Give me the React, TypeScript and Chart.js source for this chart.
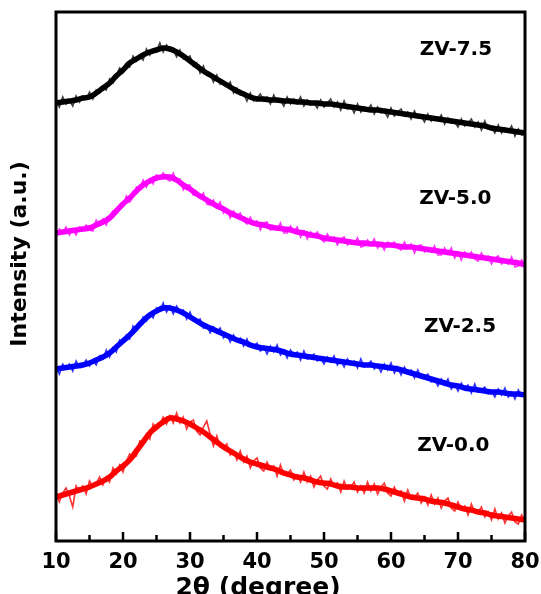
import React, { useEffect, useRef } from 'react';
import { Chart, registerables } from 'chart.js';

Chart.register(...registerables);

// 2θ sampling grid of the raw scans (degrees)
const twoTheta = [
  10, 10.5, 11, 11.5, 12, 12.5, 13, 13.5, 14, 14.5,
  15, 15.5, 16, 16.5, 17, 17.5, 18, 18.5, 19, 19.5,
  20, 20.5, 21, 21.5, 22, 22.5, 23, 23.5, 24, 24.5,
  25, 25.5, 26, 26.5, 27, 27.5, 28, 28.5, 29, 29.5,
  30, 30.5, 31, 31.5, 32, 32.5, 33, 33.5, 34, 34.5,
  35, 35.5, 36, 36.5, 37, 37.5, 38, 38.5, 39, 39.5,
  40, 40.5, 41, 41.5, 42, 42.5, 43, 43.5, 44, 44.5,
  45, 45.5, 46, 46.5, 47, 47.5, 48, 48.5, 49, 49.5,
  50, 50.5, 51, 51.5, 52, 52.5, 53, 53.5, 54, 54.5,
  55, 55.5, 56, 56.5, 57, 57.5, 58, 58.5, 59, 59.5,
  60, 60.5, 61, 61.5, 62, 62.5, 63, 63.5, 64, 64.5,
  65, 65.5, 66, 66.5, 67, 67.5, 68, 68.5, 69, 69.5,
  70, 70.5, 71, 71.5, 72, 72.5, 73, 73.5, 74, 74.5,
  75, 75.5, 76, 76.5, 77, 77.5, 78, 78.5, 79, 79.5,
  80,
];

// Raw intensity (a.u., stacked offsets as in the figure)
const zv75 = [
  441, 434, 444, 437, 441, 435, 445, 439, 445, 442,
  449, 442, 451, 448, 453, 451, 462, 458, 466, 473,
  469, 477, 474, 485, 480, 485, 481, 492, 486, 492,
  490, 498, 489, 496, 490, 491, 484, 491, 482, 483,
  485, 475, 478, 468, 475, 466, 467, 459, 466, 457,
  460, 455, 459, 448, 453, 446, 447, 440, 448, 440,
  443, 447, 440, 444, 437, 446, 439, 441, 435, 444,
  437, 442, 438, 444, 435, 441, 436, 438, 433, 441,
  434, 438, 442, 434, 439, 431, 440, 432, 435, 428,
  437, 429, 434, 431, 436, 427, 434, 428, 430, 424,
  433, 425, 429, 432, 425, 429, 422, 430, 423, 425,
  419, 427, 420, 424, 421, 426, 417, 423, 418, 419,
  414, 422, 415, 418, 422, 414, 419, 411, 420, 412,
  414, 408, 416, 408, 413, 409, 415, 405, 412, 406,
  408,
];

const zv50 = [
  305, 312, 308, 314, 306, 312, 306, 314, 312, 316,
  311, 310, 321, 316, 322, 316, 325, 330, 327, 334,
  335, 345, 339, 344, 354, 352, 361, 354, 362, 357,
  366, 364, 368, 362, 360, 368, 360, 362, 351, 356,
  356, 346, 348, 343, 348, 337, 336, 341, 334, 339,
  328, 332, 323, 330, 325, 328, 320, 317, 324, 317,
  320, 311, 318, 319, 311, 315, 311, 318, 308, 308,
  315, 309, 314, 304, 310, 302, 309, 305, 309, 302,
  299, 307, 301, 304, 296, 302, 304, 296, 300, 297,
  303, 294, 295, 301, 296, 302, 293, 298, 291, 299,
  296, 299, 293, 291, 299, 293, 297, 288, 295, 296,
  289, 292, 289, 295, 286, 286, 293, 287, 293, 283,
  289, 281, 289, 285, 289, 282, 280, 288, 282, 285,
  277, 283, 285, 277, 281, 277, 284, 274, 275, 281,
  275,
];

const zv25 = [
  174, 167, 177, 172, 177, 170, 180, 174, 176, 181,
  175, 180, 176, 185, 182, 191, 184, 193, 189, 201,
  199, 206, 202, 215, 211, 216, 224, 220, 227, 223,
  233, 230, 238, 229, 235, 227, 235, 229, 231, 222,
  229, 220, 220, 222, 213, 216, 208, 214, 208, 213,
  203, 207, 199, 206, 200, 203, 195, 202, 194, 195,
  198, 190, 194, 187, 195, 189, 196, 186, 191, 183,
  191, 186, 189, 181, 190, 182, 184, 187, 180, 183,
  177, 184, 179, 185, 176, 181, 174, 182, 177, 180,
  173, 182, 174, 176, 180, 172, 176, 169, 177, 171,
  178, 168, 174, 166, 174, 168, 171, 163, 171, 163,
  164, 167, 159, 162, 155, 162, 156, 162, 152, 157,
  150, 158, 152, 156, 148, 157, 149, 151, 154, 147,
  150, 144, 152, 146, 153, 144, 149, 142, 151, 145,
  149,
];

const zv00 = [
  48, 39, 48, 53, 45, 34, 55, 50, 55, 47,
  60, 54, 57, 64, 56, 64, 59, 73, 67, 76,
  69, 80, 87, 83, 85, 100, 98, 107, 102, 117,
  112, 117, 124, 117, 125, 118, 128, 118, 124, 112,
  119, 121, 110, 106, 114, 120, 107, 95, 105, 94,
  94, 97, 86, 90, 81, 90, 79, 85, 73, 80,
  83, 73, 70, 79, 72, 75, 65, 76, 66, 67,
  71, 61, 66, 59, 69, 59, 65, 54, 61, 65,
  55, 52, 62, 55, 58, 49, 60, 52, 54, 59,
  49, 55, 48, 59, 50, 57, 47, 54, 58, 48,
  45, 54, 47, 50, 40, 51, 42, 44, 48, 38,
  44, 36, 46, 37, 43, 33, 40, 43, 33, 30,
  39, 32, 35, 26, 37, 28, 29, 34, 24, 29,
  21, 32, 22, 28, 18, 25, 29, 19, 17, 26,
  20,
];

// Centre line of each noisy band, read at 1° steps
const twoThetaCoarse = [
  10, 11, 12, 13, 14, 15, 16, 17, 18, 19,
  20, 21, 22, 23, 24, 25, 26, 27, 28, 29,
  30, 31, 32, 33, 34, 35, 36, 37, 38, 39,
  40, 41, 42, 43, 44, 45, 46, 47, 48, 49,
  50, 51, 52, 53, 54, 55, 56, 57, 58, 59,
  60, 61, 62, 63, 64, 65, 66, 67, 68, 69,
  70, 71, 72, 73, 74, 75, 76, 77, 78, 79,
  80,
];

const zv75Band = [
  438, 439, 440, 441, 443, 444, 448, 453, 458, 465,
  471, 478, 482, 486, 489, 491, 493, 492, 489, 485,
  480, 475, 470, 466, 462, 458, 454, 450, 447, 444,
  442, 442, 441, 441, 440, 440, 439, 439, 438, 438,
  437, 437, 436, 435, 434, 433, 432, 431, 431, 430,
  429, 428, 427, 426, 425, 424, 423, 422, 421, 420,
  419, 418, 417, 416, 415, 413, 412, 411, 410, 409,
  408,
];

const zv50Band = [
  308, 309, 310, 311, 312, 313, 316, 319, 323, 330,
  337, 343, 350, 356, 360, 363, 364, 364, 361, 356,
  352, 347, 343, 339, 335, 332, 328, 325, 322, 319,
  317, 316, 314, 313, 312, 311, 309, 308, 306, 305,
  303, 302, 301, 300, 299, 298, 298, 297, 297, 296,
  296, 295, 294, 294, 293, 292, 291, 290, 289, 288,
  287, 286, 285, 284, 283, 282, 281, 280, 279, 278,
  276,
];

const zv25Band = [
  172, 173, 174, 175, 176, 178, 181, 184, 188, 194,
  200, 206, 213, 220, 226, 230, 233, 233, 231, 228,
  224, 220, 216, 213, 210, 207, 204, 201, 199, 196,
  194, 193, 192, 191, 189, 187, 186, 185, 184, 183,
  182, 181, 180, 179, 178, 177, 176, 176, 175, 174,
  173, 172, 170, 168, 166, 164, 162, 160, 158, 156,
  155, 153, 152, 151, 150, 149, 149, 148, 147, 147,
  146,
];

const zv00Band = [
  44, 46, 48, 50, 52, 54, 57, 60, 64, 70,
  75, 81, 90, 99, 108, 114, 119, 123, 122, 120,
  117, 113, 109, 104, 99, 94, 90, 86, 82, 79,
  77, 75, 73, 71, 68, 66, 64, 63, 61, 59,
  58, 57, 55, 54, 54, 53, 53, 53, 53, 52,
  50, 48, 46, 44, 43, 42, 40, 39, 38, 36,
  34, 32, 31, 29, 28, 26, 25, 24, 23, 22,
  21,
];

const seriesNames = ['ZV-0.0', 'ZV-2.5', 'ZV-5.0', 'ZV-7.5'];
const seriesColors = ['#ff0000', '#0000ff', '#ff00ff', '#000000'];
const seriesFuzz = ['rgba(255,0,0,0.8)', 'rgba(0,0,255,0.8)', 'rgba(255,0,255,0.8)', 'rgba(0,0,0,0.75)'];
const seriesRaw = [zv00, zv25, zv50, zv75];
const seriesBand = [zv00Band, zv25Band, zv50Band, zv75Band];
const labelX = [69.3, 70.3, 69.6, 69.7];
const labelY = [95, 214, 342, 491];

const xTicks = [10, 20, 30, 40, 50, 60, 70, 80];
const xMinorTicks = [15, 25, 35, 45, 55, 65, 75];
const xTitle = '2θ (degree)';
const yTitle = 'Intensity (a.u.)';

const FONT = "'DejaVu Sans', 'Liberation Sans', sans-serif";

const framePlugin = {
  id: 'xrdFrame',
  afterDraw(chart: any) {
    const { ctx, chartArea: a, scales } = chart;
    const xs = scales.x;
    const ys = scales.y;
    ctx.save();
    ctx.strokeStyle = '#000';
    ctx.lineWidth = 3;
    ctx.strokeRect(a.left, a.top, a.right - a.left, a.bottom - a.top);

    ctx.lineWidth = 2.5;
    ctx.beginPath();
    xTicks.forEach((v) => {
      const p = xs.getPixelForValue(v);
      ctx.moveTo(p, a.bottom);
      ctx.lineTo(p, a.bottom - 9);
    });
    xMinorTicks.forEach((v) => {
      const p = xs.getPixelForValue(v);
      ctx.moveTo(p, a.bottom);
      ctx.lineTo(p, a.bottom - 6);
    });
    ctx.stroke();

    ctx.fillStyle = '#000';
    ctx.textAlign = 'center';
    ctx.textBaseline = 'middle';
    ctx.font = `bold 20px ${FONT}`;
    seriesNames.forEach((t, i) => {
      ctx.fillText(t, xs.getPixelForValue(labelX[i]), ys.getPixelForValue(labelY[i]));
    });

    ctx.font = `bold 25px ${FONT}`;
    ctx.textBaseline = 'alphabetic';
    ctx.fillText(xTitle, 258, 595);

    ctx.save();
    ctx.translate(20, 254);
    ctx.rotate(-Math.PI / 2);
    ctx.font = `bold 22px ${FONT}`;
    ctx.textBaseline = 'middle';
    ctx.fillText(yTitle, 0, 0);
    ctx.restore();

    ctx.restore();
  },
};

// Draws the raw noisy scans over the smooth centre bands
const rawOverlayPlugin = {
  id: 'rawOverlay',
  afterDatasetsDraw(chart: any) {
    const { ctx, chartArea: a, scales } = chart;
    const xs = scales.x;
    const ys = scales.y;
    ctx.save();
    ctx.beginPath();
    ctx.rect(a.left, a.top, a.right - a.left, a.bottom - a.top);
    ctx.clip();
    ctx.lineWidth = 1.6;
    ctx.lineJoin = 'miter';
    seriesRaw.forEach((arr, i) => {
      ctx.strokeStyle = seriesFuzz[i];
      ctx.beginPath();
      twoTheta.forEach((x, j) => {
        const px = xs.getPixelForValue(x);
        const py = ys.getPixelForValue(arr[j]);
        if (j === 0) ctx.moveTo(px, py);
        else ctx.lineTo(px, py);
      });
      ctx.stroke();
    });
    ctx.restore();
  },
};

export default function App() {
  const canvasRef = useRef<HTMLCanvasElement | null>(null);

  useEffect(() => {
    if (!canvasRef.current) return;
    const band = seriesBand.map((arr, i) => ({
      label: seriesNames[i],
      data: twoThetaCoarse.map((x, j) => ({ x, y: arr[j] })),
      borderColor: seriesColors[i],
      borderWidth: 5.5,
      borderJoinStyle: 'round',
      pointRadius: 0,
      tension: 0.4,
      fill: false,
    }));
    const chart = new Chart(canvasRef.current, {
      type: 'line',
      data: { datasets: band },
      options: {
        responsive: false,
        animation: false,
        layout: { autoPadding: false, padding: { top: 12, right: 16, left: 0, bottom: 0 } },
        plugins: { legend: { display: false }, tooltip: { enabled: false } },
        scales: {
          x: {
            type: 'linear',
            min: 10,
            max: 80,
            afterFit: (s: any) => {
              s.height = 53;
              s.paddingLeft = 0;
              s.paddingRight = 0;
            },
            grid: { display: false, drawTicks: false },
            border: { display: false },
            ticks: {
              stepSize: 10,
              color: '#000',
              padding: 9,
              maxRotation: 0,
              autoSkip: false,
              font: { family: FONT, weight: 'bold', size: 21 },
            },
          },
          y: {
            type: 'linear',
            min: 0,
            max: 529,
            afterFit: (s: any) => {
              s.width = 56;
            },
            grid: { display: false, drawTicks: false },
            border: { display: false },
            ticks: { display: false },
          },
        },
      },
      plugins: [rawOverlayPlugin, framePlugin],
    });
    return () => chart.destroy();
  }, []);

  return (
    <div style={{ position: 'fixed', left: 0, top: 0, width: 541, height: 594, background: '#fff' }}>
      <canvas ref={canvasRef} width={541} height={594} />
    </div>
  );
}
